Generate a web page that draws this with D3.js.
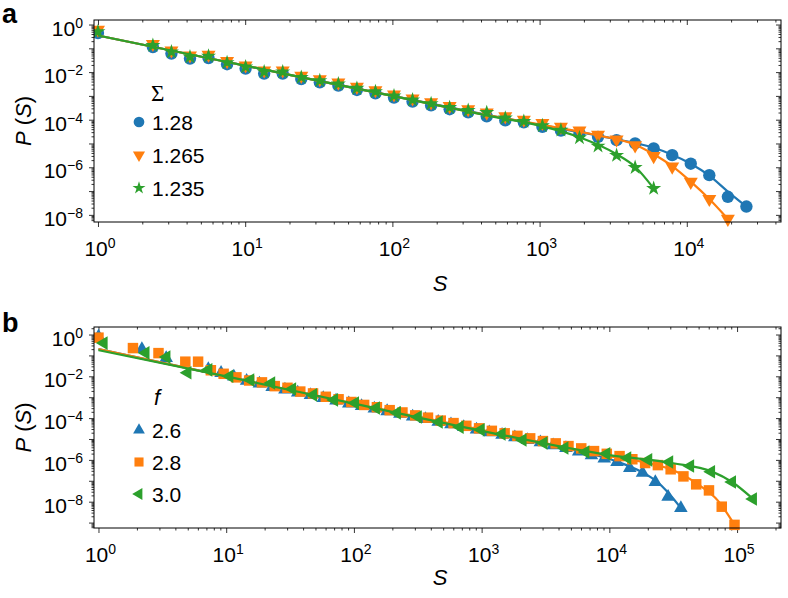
<!DOCTYPE html>
<html>
<head>
<meta charset="utf-8">
<script src="https://cdn.jsdelivr.net/npm/d3@7"></script>
<style>
  body { margin: 0; background: #fff; }
  text { font-family: "Liberation Sans", Arial, Helvetica, sans-serif; fill: #000; }
</style>
</head>
<body>
<div id="chart"></div>
<script>
// ---- data, stored as log10 values ----

// panel a: avalanche size bins (log10 S), first bin is S = 1
const logS_a = [0, 0.373, 0.499, 0.625, 0.751, 0.877, 1.003, 1.129, 1.255, 1.381, 1.507,
  1.633, 1.759, 1.885, 2.011, 2.137, 2.263, 2.389, 2.515, 2.641, 2.767, 2.893, 3.019,
  3.145, 3.271, 3.397, 3.523, 3.649, 3.775, 3.901, 4.027, 4.153, 4.279, 4.405];
// log10 P(S) for Sigma = 1.28, 1.265, 1.235
const logP_a_128 = [-0.36, -0.95, -1.22, -1.43, -1.41, -1.67, -1.85, -2.06, -2.06, -2.29,
  -2.43, -2.57, -2.75, -2.89, -3.07, -3.24, -3.40, -3.56, -3.69, -3.86, -4.03, -4.11,
  -4.30, -4.46, -4.58, -4.72, -4.86, -5.0, -5.21, -5.49, -5.85, -6.33, -7.24, -7.65];
const logP_a_1265 = [-0.22, -0.82, -1.09, -1.30, -1.27, -1.54, -1.72, -1.93, -1.93, -2.16,
  -2.30, -2.44, -2.62, -2.76, -2.94, -3.11, -3.27, -3.43, -3.56, -3.70, -3.86, -4.0,
  -4.14, -4.30, -4.46, -4.63, -4.83, -5.08, -5.53, -5.97, -6.61, -7.33, -8.17];
const logP_a_1235 = [-0.3, -0.88, -1.15, -1.36, -1.33, -1.6, -1.78, -1.99, -1.99, -2.22,
  -2.36, -2.5, -2.68, -2.82, -3.0, -3.17, -3.33, -3.49, -3.61, -3.70, -3.93, -4.07,
  -4.25, -4.44, -4.76, -5.11, -5.5, -6.01, -6.89];

// panel a: fitted curves
const fitS_a_128 = [0, 1, 2, 2.7, 3.0, 3.523, 3.775, 3.901, 4.027, 4.153, 4.279, 4.405];
const fitP_a_128 = [-0.46, -1.73, -3.0, -3.87, -4.22, -4.82, -5.18, -5.47, -5.85, -6.35, -7.02, -7.65];
const fitS_a_1265 = [0, 1, 2, 2.7, 3.0, 3.397, 3.649, 3.775, 3.901, 4.027, 4.153, 4.279];
const fitP_a_1265 = [-0.46, -1.73, -3.0, -3.87, -4.2, -4.66, -5.05, -5.45, -5.95, -6.6, -7.33, -8.17];
const fitS_a_1235 = [0, 1, 2, 2.7, 3.0, 3.271, 3.523, 3.649, 3.775];
const fitP_a_1235 = [-0.46, -1.73, -3.0, -3.89, -4.25, -4.74, -5.45, -5.98, -6.89];

// panel b: log10 S and log10 P(S) for f = 2.6, 2.8, 3.0
const logS_b_26 = [0, 0.34, 0.53, 0.86, 0.96, 1.06, 1.16, 1.26, 1.36, 1.46, 1.56, 1.66,
  1.76, 1.86, 1.96, 2.06, 2.16, 2.26, 2.36, 2.46, 2.56, 2.66, 2.76, 2.86, 2.96, 3.06,
  3.16, 3.26, 3.36, 3.46, 3.56, 3.66, 3.76, 3.86, 3.96, 4.06, 4.16, 4.26, 4.36, 4.46, 4.56];
const logP_b_26 = [-0.1, -0.7, -1.13, -1.65, -1.84, -2.01, -2.22, -2.35, -2.51, -2.64,
  -2.78, -2.90, -3.04, -3.16, -3.30, -3.42, -3.55, -3.67, -3.80, -3.93, -4.05, -4.18,
  -4.30, -4.43, -4.55, -4.68, -4.80, -4.92, -5.05, -5.16, -5.30, -5.44, -5.60, -5.78,
  -5.94, -6.1, -6.39, -6.62, -7.06, -7.77, -8.31];
const logS_b_28 = [0, 0.27, 0.47, 0.68, 0.78, 0.88, 0.98, 1.08, 1.18, 1.28, 1.38, 1.48,
  1.58, 1.68, 1.78, 1.88, 1.98, 2.08, 2.18, 2.28, 2.38, 2.48, 2.58, 2.68, 2.78, 2.88,
  2.98, 3.08, 3.18, 3.28, 3.38, 3.48, 3.58, 3.68, 3.78, 3.88, 3.98, 4.08, 4.18, 4.28,
  4.38, 4.48, 4.58, 4.68, 4.78, 4.88, 4.98];
const logP_b_28 = [-0.15, -0.65, -0.89, -1.30, -1.30, -1.71, -1.88, -2.05, -2.2, -2.29,
  -2.47, -2.55, -2.73, -2.82, -2.98, -3.1, -3.23, -3.37, -3.48, -3.62, -3.73, -3.87,
  -3.98, -4.12, -4.24, -4.37, -4.49, -4.61, -4.73, -4.85, -4.97, -5.10, -5.21, -5.34,
  -5.45, -5.58, -5.71, -5.82, -5.97, -6.15, -6.25, -6.45, -6.79, -7.17, -7.46, -8.24, -9.11];
const logS_b_30 = [0.041, 0.369, 0.533, 0.697, 0.861, 1.025, 1.189, 1.353, 1.517, 1.681,
  1.845, 2.009, 2.173, 2.337, 2.501, 2.665, 2.829, 2.993, 3.157, 3.321, 3.485, 3.649,
  3.813, 3.977, 4.141, 4.305, 4.469, 4.633, 4.797, 4.961, 5.125];
const logP_b_30 = [-0.41, -0.88, -1.08, -1.83, -1.69, -2.0, -2.18, -2.32, -2.61, -2.89,
  -3.13, -3.28, -3.52, -3.75, -3.95, -4.19, -4.43, -4.56, -4.76, -5.05, -5.19, -5.43,
  -5.62, -5.71, -5.91, -6.0, -6.1, -6.29, -6.57, -7.06, -7.87];

// panel b: fitted curves
const fitS_b_26 = [0, 1, 2, 3, 3.5, 3.8, 4.06, 4.26, 4.36, 4.46, 4.56];
const fitP_b_26 = [-0.7, -2.0, -3.36, -4.64, -5.24, -5.63, -6.08, -6.6, -6.98, -7.56, -8.31];
const fitS_b_28 = [0, 1, 2, 3, 4, 4.3, 4.5, 4.7, 4.85, 4.98];
const fitP_b_28 = [-0.7, -2.0, -3.31, -4.56, -5.82, -6.15, -6.5, -7.2, -7.95, -9.11];
const fitS_b_30 = [0, 1, 2, 3, 4, 4.5, 4.8, 4.961, 5.125];
const fitP_b_30 = [-0.75, -2.0, -3.31, -4.61, -5.77, -6.16, -6.55, -7.06, -7.87];

const legendA = ["1.28", "1.265", "1.235"];
const legendB = ["2.6", "2.8", "3.0"];

// ---- drawing ----
const colors = ["#1f77b4", "#ff7f0e", "#2ca02c"];
const pow10 = e => Math.pow(10, e);
const MINUS = "\u2212";

const svg = d3.select("#chart").append("svg")
    .attr("width", 788)
    .attr("height", 598);

function drawPanel(p) {
  const x = d3.scaleLog().domain(p.xDomain).range([p.left, p.right]);
  const y = d3.scaleLog().domain(p.yDomain).range([p.bottom, p.top]);
  const g = svg.append("g");

  // decade and minor tick values
  const xMajor = d3.range(Math.ceil(Math.log10(p.xDomain[0])), Math.floor(Math.log10(p.xDomain[1])) + 1);
  const yMajor = d3.range(Math.ceil(Math.log10(p.yDomain[0])), Math.floor(Math.log10(p.yDomain[1])) + 1);
  function minors(dom) {
    const out = [];
    for (let e = Math.floor(Math.log10(dom[0])); e <= Math.ceil(Math.log10(dom[1])); e++) {
      for (let m = 2; m <= 9; m++) {
        const v = m * pow10(e);
        if (v > dom[0] && v < dom[1]) out.push(v);
      }
    }
    return out;
  }
  const xMinor = minors(p.xDomain), yMinor = minors(p.yDomain);

  function addAxis(axisFn, scale, vals, size, transform) {
    const a = g.append("g")
        .attr("transform", transform)
        .call(axisFn(scale).tickValues(vals).tickSize(size).tickFormat(""));
    a.select(".domain").remove();
    a.selectAll("line").attr("stroke", "#000").attr("stroke-width", 0.8);
  }
  // bottom / left ticks point out, top / right point in
  addAxis(d3.axisBottom, x, xMajor.map(pow10), 5, `translate(0,${p.bottom})`);
  addAxis(d3.axisBottom, x, xMinor, 2.5, `translate(0,${p.bottom})`);
  addAxis(d3.axisTop, x, xMajor.map(pow10), -5, `translate(0,${p.top})`);
  addAxis(d3.axisTop, x, xMinor, -2.5, `translate(0,${p.top})`);
  addAxis(d3.axisLeft, y, yMajor.map(pow10), 5, `translate(${p.left},0)`);
  addAxis(d3.axisLeft, y, yMinor, 2.5, `translate(${p.left},0)`);
  addAxis(d3.axisRight, y, yMajor.map(pow10), -5, `translate(${p.right},0)`);
  addAxis(d3.axisRight, y, yMinor, -2.5, `translate(${p.right},0)`);

  // tick labels as 10 with superscript
  function powerLabel(sel, e) {
    sel.append("tspan").attr("font-size", 21).text("10");
    sel.append("tspan").attr("font-size", 14).attr("dy", -8)
        .text(e < 0 ? MINUS + Math.abs(e) : String(e));
  }
  xMajor.forEach(e => {
    const t = g.append("text")
        .attr("x", x(pow10(e)) + 2)
        .attr("y", p.bottom + 34)
        .attr("text-anchor", "middle");
    powerLabel(t, e);
  });
  yMajor.filter(e => e % 2 === 0).forEach(e => {
    const t = g.append("text")
        .attr("x", p.left - 11)
        .attr("y", y(pow10(e)) + 11)
        .attr("text-anchor", "end");
    powerLabel(t, e);
  });

  // series: markers first, fitted curve on top
  const line = d3.line()
      .x(d => x(pow10(d[0])))
      .y(d => y(pow10(d[1])))
      .curve(d3.curveMonotoneX);
  const clip = "clip-" + p.name;
  g.append("clipPath").attr("id", clip)
    .append("rect")
      .attr("x", p.left).attr("y", p.top)
      .attr("width", p.right - p.left).attr("height", p.bottom - p.top + 8);

  p.series.forEach((s, i) => {
    const pts = s.logP.map((v, j) => [s.logS[j], v]);
    const sym = d3.symbol().type(s.symbol).size(s.size);
    g.append("g").attr("clip-path", `url(#${clip})`)
      .selectAll("path")
      .data(pts)
      .join("path")
        .attr("d", sym)
        .attr("transform", d => `translate(${x(pow10(d[0]))},${y(pow10(d[1]))}) rotate(${s.rotate})`)
        .attr("fill", colors[i]);
    const fit = s.fitS.map((v, j) => [v, s.fitP[j]]);
    g.append("path")
        .datum(fit)
        .attr("clip-path", `url(#${clip})`)
        .attr("fill", "none")
        .attr("stroke", colors[i])
        .attr("stroke-width", 2.2)
        .attr("d", line);
  });

  // frame
  g.append("rect")
      .attr("x", p.left).attr("y", p.top)
      .attr("width", p.right - p.left).attr("height", p.bottom - p.top)
      .attr("fill", "none").attr("stroke", "#000").attr("stroke-width", 1);

  // legend
  const lg = g.append("g");
  p.legendTitle(lg);
  p.series.forEach((s, i) => {
    const ly = p.legendY + i * p.legendStep;
    lg.append("path")
        .attr("d", d3.symbol().type(s.symbol).size(s.size * 0.75))
        .attr("transform", `translate(139,${ly}) rotate(${s.rotate})`)
        .attr("fill", colors[i]);
    lg.append("text")
        .attr("x", 152)
        .attr("y", ly + 8)
        .style("font-size", "21px")
        .text(p.labels[i]);
  });

  // axis titles
  g.append("text")
      .attr("x", 440).attr("y", p.bottom + p.xTitleGap)
      .attr("text-anchor", "middle")
      .style("font-size", "22px")
      .style("font-style", "italic")
      .text("S");
  const yt = g.append("text")
      .attr("transform", `translate(31,${(p.top + p.bottom) / 2}) rotate(-90)`)
      .attr("text-anchor", "middle")
      .style("font-size", "22px");
  yt.append("tspan").style("font-style", "italic").text("P");
  yt.append("tspan").text(" (");
  yt.append("tspan").style("font-style", "italic").text("S");
  yt.append("tspan").text(")");

  // panel letter
  g.append("text")
      .attr("x", 2).attr("y", p.letterY)
      .style("font-size", "27px")
      .style("font-weight", "bold")
      .text(p.name);
}

drawPanel({
  name: "a",
  left: 94, right: 781, top: 20, bottom: 222,
  xTitleGap: 69, letterY: 23,
  xDomain: [pow10(-0.027), pow10(4.64)],
  yDomain: [pow10(-8.3), pow10(0.19)],
  labels: legendA,
  legendY: 122, legendStep: 33,
  legendTitle: lg => lg.append("text")
      .attr("x", 151).attr("y", 101)
      .style("font-family", "'Liberation Serif', 'DejaVu Serif', serif")
      .style("font-size", "23px")
      .text("\u03A3"),
  series: [
    {logS: logS_a, logP: logP_a_128, fitS: fitS_a_128, fitP: fitP_a_128, symbol: d3.symbolCircle, size: 120, rotate: 0},
    {logS: logS_a, logP: logP_a_1265, fitS: fitS_a_1265, fitP: fitP_a_1265, symbol: d3.symbolTriangle, size: 85, rotate: 180},
    {logS: logS_a, logP: logP_a_1235, fitS: fitS_a_1235, fitP: fitP_a_1235, symbol: d3.symbolStar, size: 70, rotate: 0}
  ]
});

drawPanel({
  name: "b",
  left: 94, right: 781, top: 327, bottom: 528,
  xTitleGap: 57, letterY: 332,
  xDomain: [pow10(-0.035), pow10(5.344)],
  yDomain: [pow10(-9.26), pow10(0.36)],
  labels: legendB,
  legendY: 430, legendStep: 32,
  legendTitle: lg => lg.append("text")
      .attr("x", 154).attr("y", 405)
      .style("font-size", "22px")
      .style("font-style", "italic")
      .text("f"),
  series: [
    {logS: logS_b_26, logP: logP_b_26, fitS: fitS_b_26, fitP: fitP_b_26, symbol: d3.symbolTriangle, size: 80, rotate: 0},
    {logS: logS_b_28, logP: logP_b_28, fitS: fitS_b_28, fitP: fitP_b_28, symbol: d3.symbolSquare, size: 110, rotate: 0},
    {logS: logS_b_30, logP: logP_b_30, fitS: fitS_b_30, fitP: fitP_b_30, symbol: d3.symbolTriangle, size: 80, rotate: -90}
  ]
});
</script>
</body>
</html>
